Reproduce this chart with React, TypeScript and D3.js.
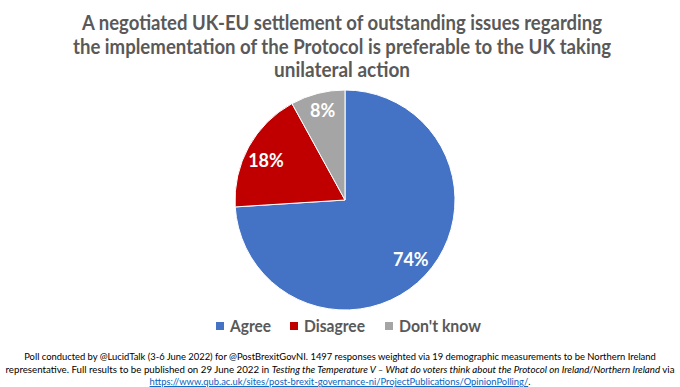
import { useEffect, useRef } from 'react';
import * as d3 from 'd3';

interface Slice {
    label: string;
    value: number;
}

// Poll results (%)
const categories = ['Agree', 'Disagree', "Don't know"];
const values = [74, 18, 8];
const colors = ['#4472C4', '#C00000', '#A5A5A5'];

const titleLines = [
    'A negotiated UK-EU settlement of outstanding issues regarding',
    'the implementation of the Protocol is preferable to the UK taking',
    'unilateral action',
];

const App = () => {
    const svgRef = useRef<SVGSVGElement>(null);

    useEffect(() => {
        document.body.style.margin = '0';
        if (!svgRef.current) return;

        const data: Slice[] = categories.map((c, i) => ({ label: c, value: values[i] }));

        const width = 680;
        const height = 387;
        const cx = 345;
        const cy = 200;
        const r = 110;
        const font = 'Lato, Calibri, "Open Sans", sans-serif';

        const svg = d3.select(svgRef.current);
        svg.selectAll('*').remove();
        svg.attr('width', width).attr('height', height);

        svg.append('rect').attr('width', width).attr('height', height).attr('fill', '#fff');

        // заголовок (Calibri уже, чем Lato — подгоняем ширину строк)
        const titleWidths = [520, 538, 136];
        svg.append('g')
            .selectAll('text')
            .data(titleLines)
            .enter()
            .append('text')
            .attr('x', 342)
            .attr('y', (_, i) => 30 + i * 23.5)
            .attr('text-anchor', 'middle')
            .attr('textLength', (_, i) => titleWidths[i])
            .attr('lengthAdjust', 'spacingAndGlyphs')
            .attr('font-family', font)
            .attr('font-weight', 'bold')
            .attr('font-size', '21px')
            .attr('fill', '#595959')
            .text(d => d);

        // пирог
        const pie = d3.pie<Slice>().value(d => d.value).sort(null);
        const arc = d3.arc<d3.PieArcDatum<Slice>>().innerRadius(0).outerRadius(r);
        const labelArc = d3.arc<d3.PieArcDatum<Slice>>().innerRadius(r * 0.82).outerRadius(r * 0.82);

        const g = svg.append('g').attr('transform', `translate(${cx},${cy})`);
        const arcs = pie(data);

        g.selectAll('path')
            .data(arcs)
            .enter()
            .append('path')
            .attr('d', arc)
            .attr('fill', (_, i) => colors[i])
            .attr('stroke', '#fff')
            .attr('stroke-width', 1);

        g.selectAll('text')
            .data(arcs)
            .enter()
            .append('text')
            .attr('transform', d => {
                const [x, y] = labelArc.centroid(d);
                return `translate(${x},${y + (d.index === 1 ? 4 : -2)})`;
            })
            .attr('text-anchor', 'middle')
            .attr('dy', '0.35em')
            .attr('font-family', font)
            .attr('font-weight', 'bold')
            .attr('font-size', '18px')
            .attr('fill', '#fff')
            .text(d => `${d.data.value}%`);

        // легенда
        const legendX = [216, 290, 385];
        const legendW = [41, 61, 82];
        const legend = svg.append('g').attr('transform', 'translate(0,326)');
        const items = legend.selectAll('g')
            .data(data)
            .enter()
            .append('g')
            .attr('transform', (_, i) => `translate(${legendX[i]},0)`);
        items.append('rect')
            .attr('x', 0)
            .attr('y', -4)
            .attr('width', 8)
            .attr('height', 8)
            .attr('fill', (_, i) => colors[i]);
        items.append('text')
            .attr('x', 14)
            .attr('y', 0)
            .attr('dy', '0.35em')
            .attr('textLength', (_, i) => legendW[i])
            .attr('lengthAdjust', 'spacingAndGlyphs')
            .attr('font-family', font)
            .attr('font-weight', 'bold')
            .attr('font-size', '17px')
            .attr('fill', '#595959')
            .text(d => d.label);

        // сноска
        const note = svg.append('g')
            .attr('font-family', font)
            .attr('fill', '#000');

        note.append('text')
            .attr('x', 340)
            .attr('y', 360)
            .attr('font-size', '9.4px')
            .attr('text-anchor', 'middle')
            .text('Poll conducted by @LucidTalk (3-6 June 2022) for @PostBrexitGovNI. 1497 responses weighted via 19 demographic measurements to be Northern Ireland');

        const l2 = note.append('text')
            .attr('x', 340)
            .attr('y', 373)
            .attr('font-size', '9.7px')
            .attr('text-anchor', 'middle');
        l2.append('tspan').text('representative. Full results to be published on 29 June 2022 in ');
        l2.append('tspan').attr('font-style', 'italic')
            .text('Testing the Temperature V \u2013 What do voters think about the Protocol on Ireland/Northern Ireland');
        l2.append('tspan').text(' via');

        const l3 = note.append('text')
            .attr('x', 340)
            .attr('y', 385)
            .attr('font-size', '9.4px')
            .attr('text-anchor', 'middle');
        l3.append('tspan')
            .attr('fill', '#0563C1')
            .attr('text-decoration', 'underline')
            .text('https://www.qub.ac.uk/sites/post-brexit-governance-ni/ProjectPublications/OpinionPolling/');
        l3.append('tspan').text('.');
    }, []);

    return <svg ref={svgRef} style={{ display: 'block' }}></svg>;
};

export default App;
